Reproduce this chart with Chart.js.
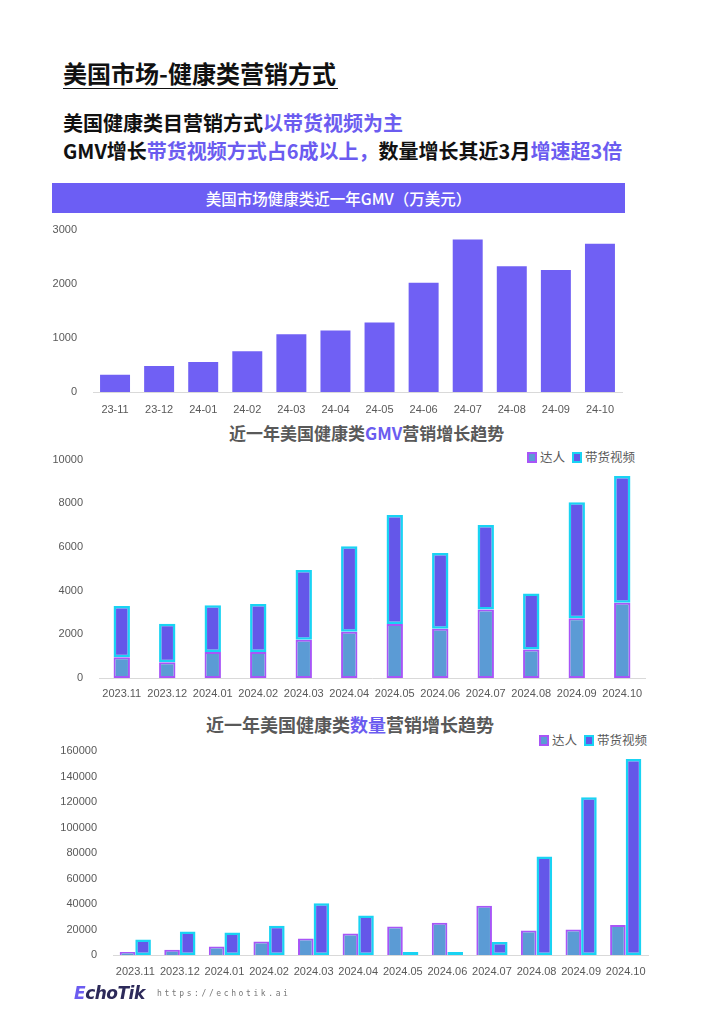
<!DOCTYPE html>
<html>
<head>
<meta charset="utf-8">
<script src="https://cdn.jsdelivr.net/npm/chart.js@4"></script>
<style>
  body { margin:0; width:709px; height:1024px; background:#fff; position:relative; overflow:hidden;
         font-family:"Noto Sans CJK SC","Noto Sans",sans-serif; }
  .abs { position:absolute; white-space:nowrap; }
  .hl { color:#6b5cf0; }
  #title { left:63px; top:58px; font-size:24px; font-weight:700; color:#111; line-height:30px;
           border-bottom:1.5px solid #111; padding-right:2px; }
  .sub { left:63px; font-size:20px; font-weight:700; color:#111; line-height:26px; }
  #band { left:52px; top:183px; width:573px; height:30px; background:#6c5ef4; color:#fff;
          font-size:15.5px; font-weight:500; line-height:30px; text-align:center; }
  .ctitle { font-size:17px; font-weight:700; color:#595959; line-height:22px; }
  .legend { font-size:12.5px; color:#595959; line-height:16px; display:flex; align-items:center; }
  .sw { display:inline-block; width:6px; height:7px; margin-right:3px; }
  .sw.a { background:#5b9bd5; border:2px solid #a855f7; }
  .sw.b { background:#6457e9; border:2px solid #19d3f3; margin-left:7px; }
  canvas { position:absolute; }
  #logo { left:74px; top:983px; font-family:"DejaVu Sans",sans-serif; font-size:17px; font-weight:700;
          font-style:italic; color:#2d2a5a; letter-spacing:-0.5px; }
  #url { left:157px; top:989px; font-family:"DejaVu Sans Mono",monospace; font-size:8px; color:#777;
         letter-spacing:2.6px; }
</style>
</head>
<body>
<div id="title" class="abs">美国市场-健康类营销方式</div>
<div class="abs sub" style="top:110px">美国健康类目营销方式<span class="hl">以带货视频为主</span></div>
<div class="abs sub" style="top:138px">GMV增长<span class="hl">带货视频方式占6成以上，</span>数量增长其近3月<span class="hl">增速超3倍</span></div>
<div id="band" class="abs">美国市场健康类近一年GMV（万美元）</div>

<div class="abs ctitle" style="left:229px; top:422px">近一年美国健康类<span class="hl">GMV</span>营销增长趋势</div>
<div class="abs legend" style="left:527px; top:449px"><span class="sw a"></span>达人<span class="sw b"></span>带货视频</div>

<div class="abs ctitle" style="left:206px; top:713px; font-size:18px">近一年美国健康类<span class="hl">数量</span>营销增长趋势</div>
<div class="abs legend" style="left:539px; top:732px"><span class="sw a"></span>达人<span class="sw b"></span>带货视频</div>

<canvas id="c1" style="left:50px; top:215px; width:580px; height:205px" width="580" height="205"></canvas>
<canvas id="c2" style="left:50px; top:445px; width:600px; height:260px" width="600" height="260"></canvas>
<canvas id="c3" style="left:50px; top:735px; width:605px; height:250px" width="605" height="250"></canvas>

<div id="logo" class="abs"><span style="color:#6b5cf0">E</span>choTik</div>
<div id="url" class="abs">https://echotik.ai</div>

<script>
// 近一年GMV（万美元）
const months1 = ['23-11','23-12','24-01','24-02','24-03','24-04','24-05','24-06','24-07','24-08','24-09','24-10']
const gmvTotal = [320, 480, 555, 755, 1065, 1135, 1285, 2020, 2815, 2325, 2255, 2740]

// GMV 营销方式
const months2 = ['2023.11','2023.12','2024.01','2024.02','2024.03','2024.04','2024.05','2024.06','2024.07','2024.08','2024.09','2024.10']
const gmvDaren = [950, 720, 1190, 1190, 1750, 2120, 2470, 2250, 3140, 1310, 2740, 3440]
const gmvVideo = [2350, 1760, 2140, 2200, 3200, 3910, 4990, 3470, 3860, 2560, 5310, 5810]

// 数量 营销方式
const cntDaren = [2400, 4200, 6600, 10500, 12900, 16800, 22300, 25200, 38600, 19200, 20000, 23600]
const cntVideo = [12100, 18400, 17600, 22900, 40500, 31000, 2400, 2400, 10200, 77200, 123700, 153700]

const gray = '#595959'
const tickFont = { family: 'Liberation Sans', size: 11 }

function baseOpts(yMax, step, yWidth, pad, xHeight, xPad, stacked){
    return {
        responsive:false,
        animation:false,
        layout:{ padding: pad },
        plugins:{ legend:{ display:false }, tooltip:{ enabled:false } },
        scales:{
            x:{
                stacked,
                grid:{ display:false },
                border:{ display:true, color:'#d9d9d9', width:1 },
                ticks:{ color:gray, font:tickFont, padding:xPad, maxRotation:0, autoSkip:false },
                afterFit: s => { s.height = xHeight }
            },
            y:{
                stacked,
                min:0, max:yMax,
                grid:{ display:false },
                border:{ display:false },
                ticks:{ color:gray, font:tickFont, stepSize:step, padding:8, callback: v => String(v) },
                afterFit: s => { s.width = yWidth }
            }
        }
    }
}

new Chart(document.getElementById('c1'), {
    type:'bar',
    data:{
        labels: months1,
        datasets:[{ label:'GMV', data: gmvTotal, backgroundColor:'#7060f4',
                    barPercentage:0.68, categoryPercentage:1 }]
    },
    options: baseOpts(3000, 1000, 43, {top:12, right:8, left:0, bottom:0}, 28, 3, false)
})

new Chart(document.getElementById('c2'), {
    type:'bar',
    data:{
        labels: months2,
        datasets:[
            { label:'达人', data: gmvDaren, backgroundColor:'#5b9bd5', borderColor:'#a855f7',
              borderWidth:2, borderSkipped:false, barPercentage:0.36, categoryPercentage:1 },
            { label:'带货视频', data: gmvVideo, backgroundColor:'#6457e9', borderColor:'#19d3f3',
              borderWidth:2.5, borderSkipped:false, barPercentage:0.36, categoryPercentage:1 }
        ]
    },
    options: baseOpts(10000, 2000, 49, {top:14, right:5, left:0, bottom:0}, 27, 1, true)
})

new Chart(document.getElementById('c3'), {
    type:'bar',
    data:{
        labels: months2,
        datasets:[
            { label:'达人', data: cntDaren, backgroundColor:'#5b9bd5', borderColor:'#a855f7',
              borderWidth:2, borderSkipped:'bottom', barPercentage:1, categoryPercentage:0.7 },
            { label:'带货视频', data: cntVideo, backgroundColor:'#6457e9', borderColor:'#19d3f3',
              borderWidth:2.5, borderSkipped:false, barPercentage:1, categoryPercentage:0.7 }
        ]
    },
    options: baseOpts(160000, 20000, 63, {top:16, right:7, left:0, bottom:0}, 30, 2, false)
})
</script>
</body>
</html>
